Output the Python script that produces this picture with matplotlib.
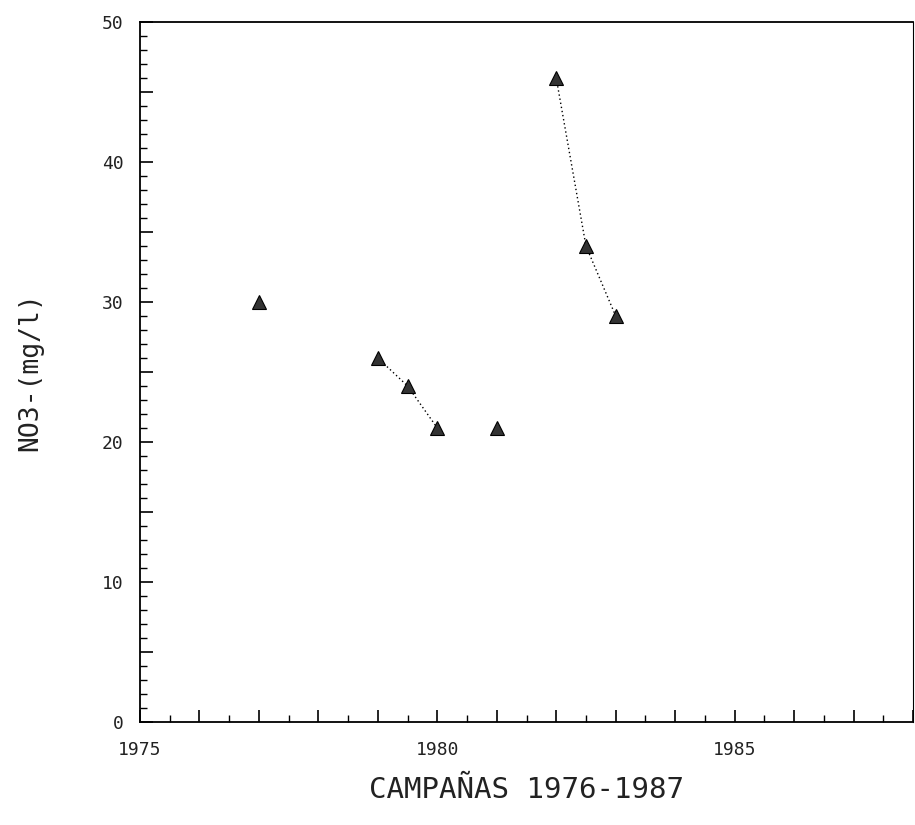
import matplotlib
matplotlib.use("Agg")
import matplotlib.pyplot as plt
from matplotlib.ticker import MultipleLocator, FuncFormatter
import numpy as np

# Data
seg_a_years = [1977]
seg_a_vals = [30]
seg_b_years = [1979, 1979.5, 1980]
seg_b_vals = [26, 24, 21]
seg_c_years = [1981]
seg_c_vals = [21]
seg_d_years = [1982, 1982.5, 1983]
seg_d_vals = [46, 34, 29]

x_label = "CAMPAÑAS 1976-1987"
y_label = "NO3-(mg/l)"

plt.rcParams['font.family'] = ['DejaVu Sans Mono', 'DejaVu Sans']

fig = plt.figure(figsize=(9.15, 8.25), dpi=100)
ax = fig.add_axes([140/915, 103/825, 773/915, 700/825])

for xs, ys in [(seg_a_years, seg_a_vals), (seg_b_years, seg_b_vals),
               (seg_c_years, seg_c_vals), (seg_d_years, seg_d_vals)]:
    ax.plot(xs, ys, color='black', linewidth=1.0, linestyle=(0, (1, 2)),
            marker='^', markersize=10, markerfacecolor='#333333',
            markeredgecolor='black', markeredgewidth=0.8)

ax.set_xlim(1975, 1988)
ax.set_ylim(0, 50)

ax.xaxis.set_major_locator(MultipleLocator(1))
ax.xaxis.set_minor_locator(MultipleLocator(0.5))
ax.yaxis.set_major_locator(MultipleLocator(5))
ax.yaxis.set_minor_locator(MultipleLocator(1))

ax.xaxis.set_major_formatter(FuncFormatter(
    lambda v, p: f"{int(round(v))}" if int(round(v)) % 5 == 0 else ""))
ax.yaxis.set_major_formatter(FuncFormatter(
    lambda v, p: f"{int(round(v))}" if int(round(v)) % 10 == 0 else ""))

ax.tick_params(axis='both', which='major', direction='in', length=9, width=1.2,
               labelsize=13, labelcolor='#222222', top=False, right=False)
ax.tick_params(axis='both', which='minor', direction='in', length=5, width=1.0,
               top=False, right=False)
ax.tick_params(axis='x', which='major', pad=14)
ax.tick_params(axis='y', which='major', pad=12)

for s in ax.spines.values():
    s.set_linewidth(1.3)
    s.set_color('black')
ax.spines['right'].set_linewidth(0.8)

ax.set_xlabel(x_label, fontsize=21, labelpad=12, color='#222222')
ax.set_ylabel(y_label, fontsize=19, labelpad=42, color='#222222')

fig.savefig("out.png", dpi=100)
